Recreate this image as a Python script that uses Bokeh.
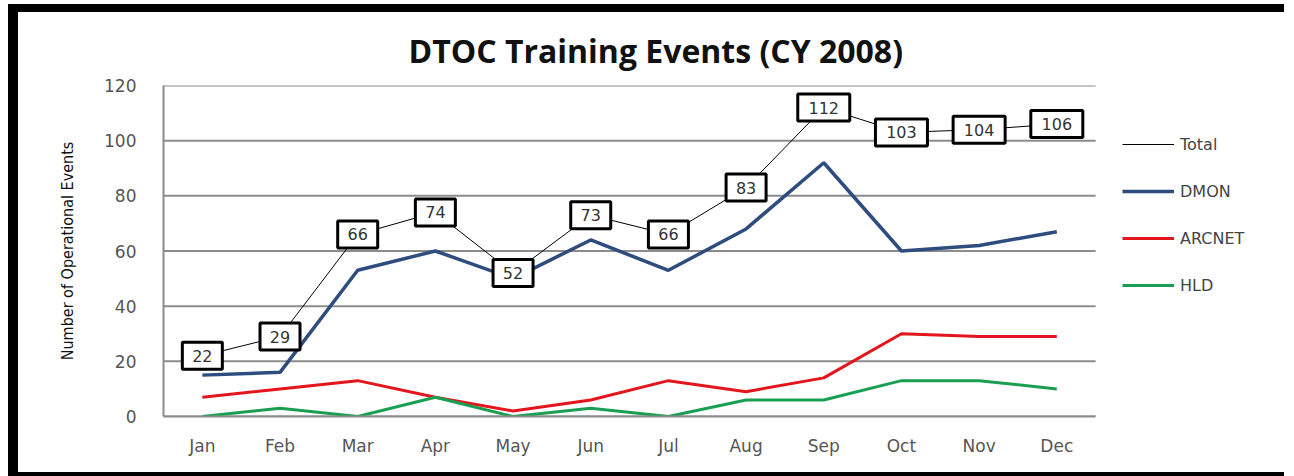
from bokeh.plotting import figure
from bokeh.models import Range1d, FixedTicker, Legend, LegendItem, ColumnDataSource
from bokeh.embed import file_html
from bokeh.resources import INLINE
from bokeh.core.properties import value

months = ["Jan", "Feb", "Mar", "Apr", "May", "Jun", "Jul", "Aug", "Sep", "Oct", "Nov", "Dec"]
total = [22, 29, 66, 74, 52, 73, 66, 83, 112, 103, 104, 106]
dmon = [15, 16, 53, 60, 50, 64, 53, 68, 92, 60, 62, 67]
arcnet = [7, 10, 13, 7, 2, 6, 13, 9, 14, 30, 29, 29]
hld = [0, 3, 0, 7, 0, 3, 0, 6, 6, 13, 13, 10]
y_ticks = [0, 20, 40, 60, 80, 100, 120]

TICK_FONT = "DejaVu Sans"
GRID = "#8c8c8c"

xs = list(range(len(months)))
x_lo, x_hi = -0.5, len(months) - 0.5

p = figure(
    width=1276, height=472,
    x_range=Range1d(x_lo, x_hi + 2.56),
    y_range=Range1d(0, 120),
    output_backend="svg", toolbar_location=None,
    min_border_left=145, min_border_right=0,
    min_border_top=73, min_border_bottom=68,
)
p.styles = {"margin-left": "8px", "margin-top": "4px",
            "border-left": "10px solid black", "border-top": "8px solid black",
            "border-bottom": "4px solid black"}
p.outline_line_color = None
p.background_fill_color = "white"
p.border_fill_color = "white"

p.title.text = "DTOC Training Events (CY 2008)"
p.title.text_font = "Open Sans"
p.title.text_font_style = "bold"
p.title.text_font_size = "32px"
p.title.text_color = "#111111"
p.title.align = "left"
p.title.offset = 245
p.title.standoff = 27

p.xgrid.grid_line_color = None
p.ygrid.grid_line_color = None
p.yaxis.ticker = FixedTicker(ticks=y_ticks)
p.xaxis.ticker = FixedTicker(ticks=xs)
p.xaxis.major_label_overrides = {i: m for i, m in zip(xs, months)}
p.xaxis.bounds = (x_lo, x_hi)

# horizontal gridlines limited to the category span
p.segment(x0=[x_lo] * len(y_ticks), x1=[x_hi] * len(y_ticks), y0=y_ticks, y1=y_ticks,
          line_color=GRID, line_width=2)

for ax in (p.xaxis[0], p.yaxis[0]):
    ax.axis_line_color = GRID
    ax.axis_line_width = 2
    ax.major_tick_line_color = None
    ax.minor_tick_line_color = None
    ax.major_tick_out = 0
    ax.major_tick_in = 0
    ax.major_label_text_font = TICK_FONT
    ax.major_label_text_font_size = "17px"
    ax.major_label_text_color = "#555555"

p.xaxis.major_label_standoff = 19
p.yaxis.major_label_standoff = 27
p.yaxis.axis_label = "Number of Operational Events"
p.yaxis.axis_label_text_font = "'DejaVu Sans Condensed', 'Liberation Sans Narrow', Roboto"
p.yaxis.axis_label_text_font_style = "normal"
p.yaxis.axis_label_text_font_size = "16px"
p.yaxis.axis_label_text_color = "#111111"
p.yaxis.axis_label_standoff = 24

r_dmon = p.line(xs, dmon, line_color="#2f4c7e", line_width=3.5)
r_arc = p.line(xs, arcnet, line_color="#e3161d", line_width=3)
r_hld = p.line(xs, hld, line_color="#1a9f52", line_width=3)
r_tot = p.line(xs, total, line_color="black", line_width=1)

box_w = [16 + 12 * len(str(v)) for v in total]
src = ColumnDataSource(dict(x=xs, y=total, w=box_w, t=[str(v) for v in total]))
p.rect("x", "y", width="w", height=27, width_units="screen", height_units="screen",
       source=src, fill_color="white", line_color="black", line_width=3)
p.text("x", "y", text="t", source=src, text_align="center", text_baseline="middle",
       text_font=value(TICK_FONT), text_font_size="16px", text_color="#333333")

legend = Legend(items=[
    LegendItem(label="Total", renderers=[r_tot]),
    LegendItem(label="DMON", renderers=[r_dmon]),
    LegendItem(label="ARCNET", renderers=[r_arc]),
    LegendItem(label="HLD", renderers=[r_hld]),
], location=(959, 121), padding=0, margin=0, spacing=27,
    glyph_width=52, glyph_height=20, label_standoff=6,
    label_text_font=TICK_FONT, label_text_font_size="16px", label_text_color="#444444",
    border_line_color=None, background_fill_alpha=0)
p.add_layout(legend, "center")

open("out.html", "w").write(file_html(p, INLINE))
